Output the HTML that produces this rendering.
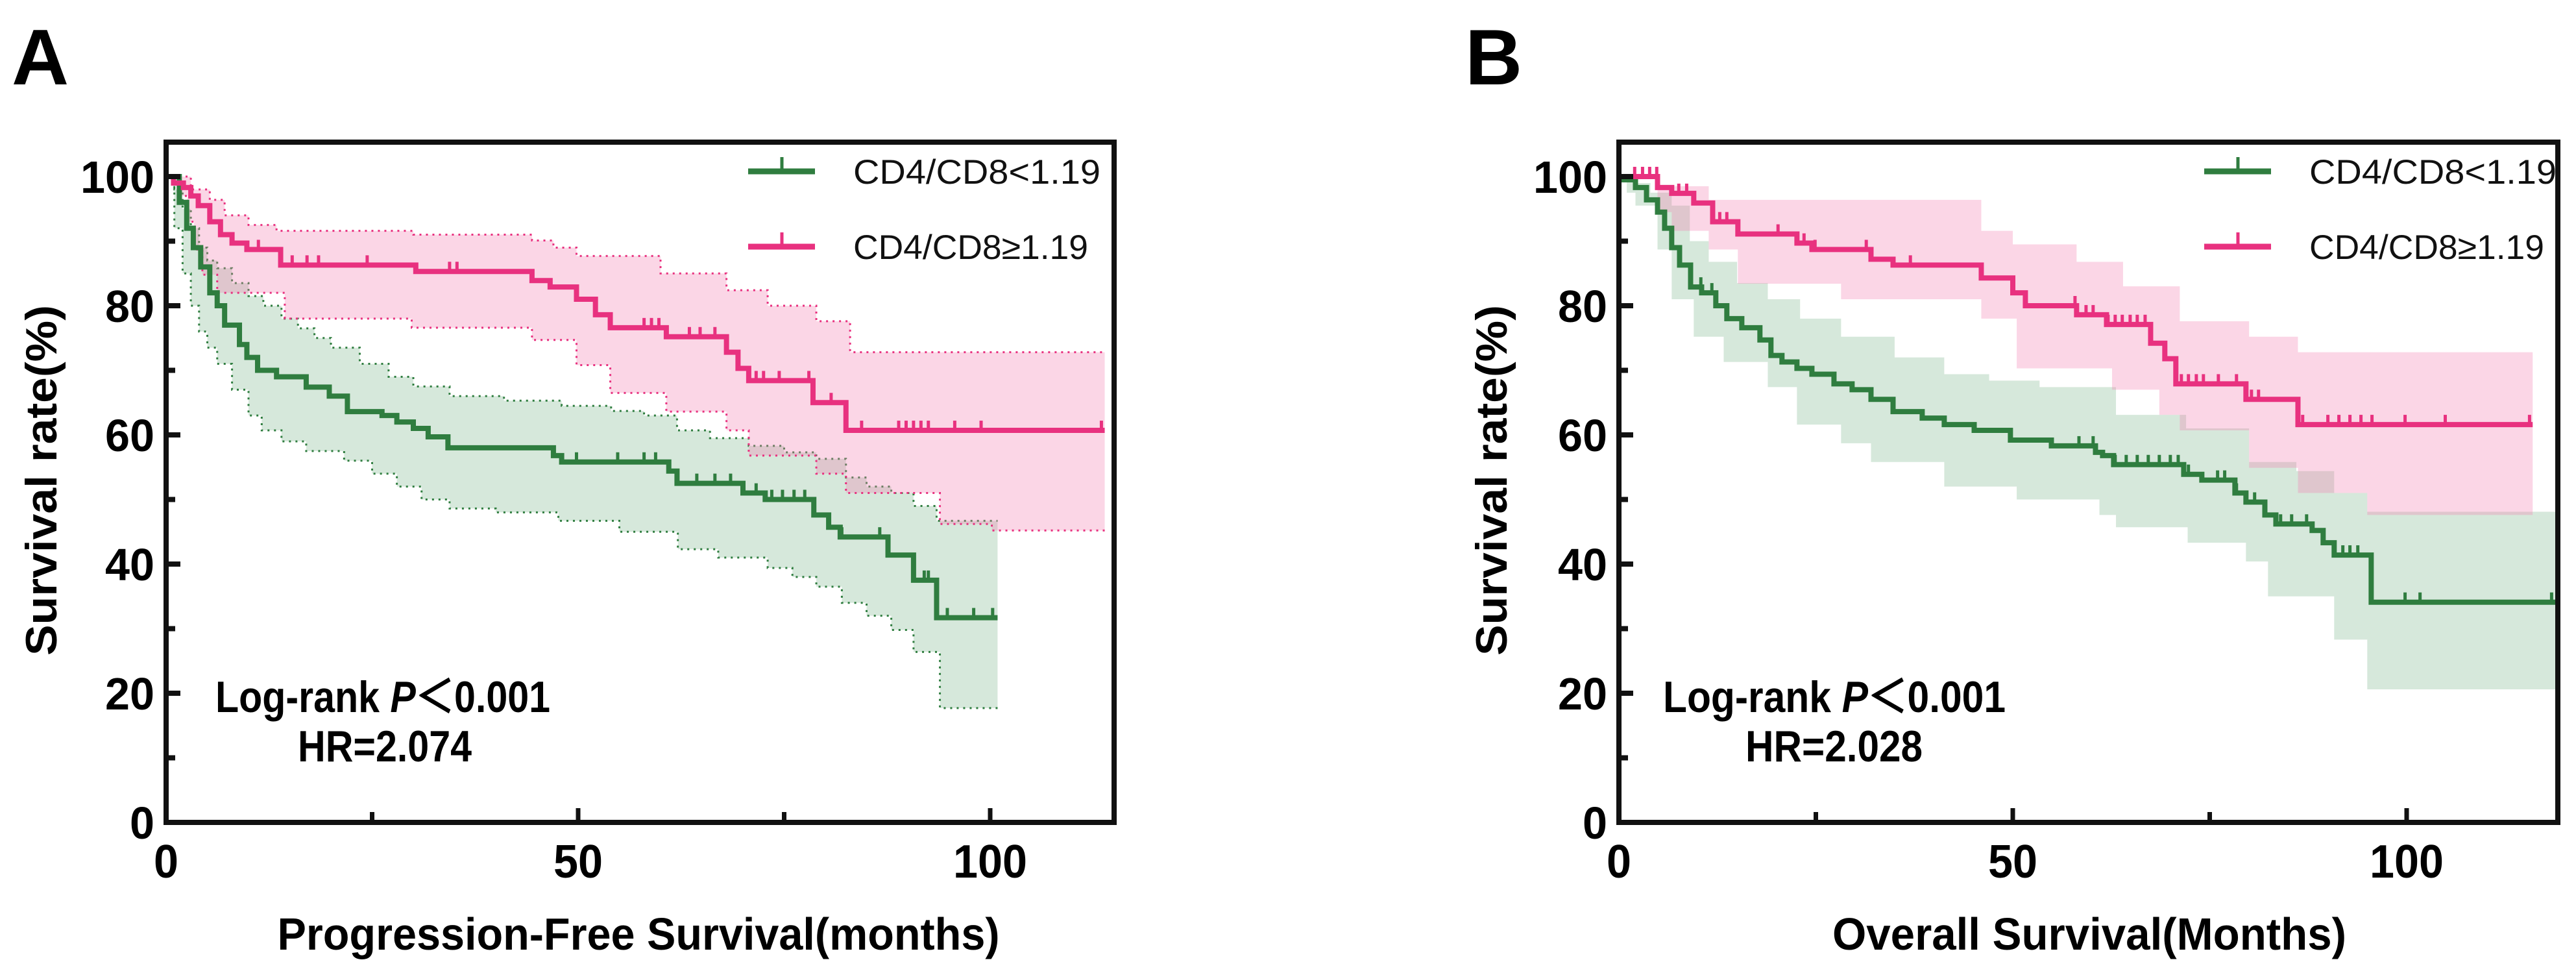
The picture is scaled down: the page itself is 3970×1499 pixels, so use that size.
<!DOCTYPE html>
<html><head><meta charset="utf-8"><style>
html,body{margin:0;padding:0;background:#fff}
svg{display:block}
text{font-family:"Liberation Sans",sans-serif}
</style></head><body>
<svg id="fig" width="3970" height="1499" viewBox="0 0 3970 1499" xmlns="http://www.w3.org/2000/svg">
<text x="18" y="130" font-size="122" font-weight="bold">A</text>
<text x="2258" y="130" font-size="122" font-weight="bold">B</text>
<g id="pa"></g>
<g id="pb"></g>
</svg>
<script>
// ---- Panel A data (PFS) ----
const aLowTimes=[0,1.6,2.5,3.3,4.2,5.3,6.2,7.1,8.9,9.8,11.1,13.4,17,19.8,22,26.2,28,30,31.8,34.2,47,48,61,62,70,72.7,78.6,80.4,81.8,87.6,90.7,93.5];
const aLowSurv=[100,96,92,89,86,82,80,77,74,72,70,69,67.4,66,63.6,63,62,61,59.7,58,56.8,55.8,54.4,52.5,51,50,47.6,45.7,44.2,41.4,37.5,31.7];
const aLowEnd=100.9;
const aLowCens=[49.8,54.8,58,59.4,64.4,66.6,68.5,71.6,73.5,74.8,76.2,77.5,82,86.6,92,92.5,94.8,98,100.3];
const aLowCiUpT=[0,1,2,3,4,5,6.2,8,10,11.8,14,16,18,20,23.5,27,30,34.4,41,48,54,58,62,66,70.7,75,78.9,82.5,85,88,90.7,93.5];
const aLowCiUpV=[100,98,95,92,89,87,85.8,83.5,81.5,80,78,76.5,75,73.5,71,69,67.5,66,65.3,64.5,63.7,63,60.7,59.5,58.3,57.3,56.3,53.4,52,51,49,46.7];
const aLowCiLoT=[0,1,2,3,4,5,6.2,8,10,11.6,14,17,21.6,25,28,31,34.4,40,47.6,55,62.1,67,73,76,78.9,82,85,88,90.7,93.9];
const aLowCiLoV=[100,92,85,80,76,73.5,71,67,63,60.7,59,57.5,56,54,52,50,48.6,48,46.7,45,42.3,41,39.4,38,36.5,34,32,29.8,26.4,17.7];

const aHighTimes=[0,0.9,2.1,3,3.9,5.3,6.6,8,9.8,13.9,30.3,44.4,46.6,49.8,52.1,53.9,60.7,68,69.4,70.7,78.5,82.5];
const aHighSurv=[100,99,98.3,97,95.5,93,91,89.7,88.7,86.3,85.3,83.9,82.9,81,78.6,76.6,75.2,72.8,70.3,68.4,65,60.7];
const aHighEnd=113.9;
const aHighCens=[8,11.2,15.3,17.1,18.5,24.4,34.4,35.3,58,58.9,59.8,63.5,64.8,66.6,71.6,72.5,74.4,78,80.7,84.4,88.9,89.8,90.7,91.6,92.5,95.7,98.9,113.5];
const aHighCiUpT=[0,3,5.3,7.1,10,13.4,30,44.4,47,49.8,60,68,73,78.9,83];
const aHighCiUpV=[100,98,96.4,94,92.5,91.6,91,90.1,89,87.7,85,82.4,80,77.6,72.8];
const aHighCiLoT=[0,1.5,2.6,3.4,4.4,6.2,14.4,29.8,44.4,49.8,53.9,60.7,68,70.7,78.9,82.5,93.9,100.2];
const aHighCiLoV=[100,97,93,88.7,84.8,82,78,76.6,74.7,70.8,66.5,63.6,60.7,56.8,54,51,46.2,45.2];

// ---- Panel B data (OS) ----
const bLowTimes=[0,0.65,2.1,3.5,4.9,5.8,6.7,7.7,9.1,10.5,12.3,13.7,15.6,17.9,19.3,20.7,22.6,24.5,27.3,29.6,32,34.8,38.5,41.3,45.1,49.7,54.9,60.5,61.4,62.8,71.7,74,78.2,79.6,82,83.4,88,89.4,90.8,95.5];
const bLowSurv=[100,99.5,98.3,96.4,94.5,92,89,86.3,82.9,82,80,78,76.6,74.7,72.3,71.3,70.3,69.4,67.9,67,65.5,63.6,62.6,61.6,60.7,59.2,58.3,57.3,56.8,55.4,53.9,53,51,49.6,47.6,46.2,45.2,43.3,41.4,34.1];
const bLowEnd=118.9;
const bLowCens=[10.4,11.8,58.4,60.2,63,64.4,65.8,67.2,68.6,70,71,72.3,76,76.9,78.4,80.7,84,85.4,87.3,91.9,92.8,93.8,99.8,101.7,118.4];
const bLowCiUpT=[0,2,4,6.7,9,11.4,15,18.9,23,28.2,35,41.3,47,53.4,63.1,72,80,86,90.8,95];
const bLowCiUpV=[100,99,97.5,95.5,90,86.8,83.5,81,78,75.2,72,69.4,68.4,67.4,63.1,61,55.8,54.4,51,48.1];
const bLowCiLoT=[0,1,2.1,4.9,6.7,9.5,13.3,18.9,22.6,28.2,32,41.3,50.5,61,63.1,72.2,79.6,82.4,90.8,95];
const bLowCiLoV=[100,97.5,95.5,88.7,81,75.2,71.3,67.4,61.6,58.7,55.8,52,50,47.6,45.7,43.3,40.4,35,28.3,20.6];

const bHighTimes=[0,4.9,6.7,9.5,11.9,15.1,22.6,24.5,32,34.8,46,50,51.6,58.1,61.9,67.5,69.3,70.7,79.6,86.2];
const bHighSurv=[100,98.3,97.4,95.9,93,91.1,89.7,88.7,87.2,86.3,84.3,82,80,78.6,77.1,74.2,71.8,67.9,65.5,61.6];
const bHighEnd=116;
const bHighCens=[2,3,3.9,4.8,7.6,8.6,9.5,12.8,13.7,20.2,23.5,24.9,31.4,37,57.9,59.3,60.2,62.1,63,63.9,64.9,65.8,66.8,71.4,72.3,73.3,74.2,76.1,78.4,80.3,81.2,86.8,90,91.4,92.8,94.2,95.6,99.8,104.9,115.6];
const bHighCiUpT=[0,5,11.4,46,50,58.1,64,71.2,80,86.2];
const bHighCiUpV=[100,98.5,96.4,91.6,89.5,86.8,83,77.6,75.2,72.8];
const bHighCiLoT=[0,4.9,6.7,11.4,15.1,28.2,46,50.5,62.6,68.6,71.2,80,86.2,95];
const bHighCiLoV=[100,94.5,91.6,88.7,83.4,81,78,70.3,67,63.1,60.7,54.9,51,47.6];

const yTicks=[0,20,40,60,80,100];
const yMinor=[10,30,50,70,90];
const xTicks=[0,50,100];
const xMinor=[25,75];
const legendLabels=["CD4/CD8<1.19","CD4/CD8\u22651.19"];

const NS="http://www.w3.org/2000/svg";
const GREEN="#2f7d3f", PINK="#e8317f";
function mk(tag,attrs,parent){const e=document.createElementNS(NS,tag);for(const k in attrs)e.setAttribute(k,attrs[k]);parent.appendChild(e);return e;}

function stepPts(T,V,end,X,Y){const p=[[X(T[0]),Y(V[0])]];for(let i=1;i<T.length;i++){p.push([X(T[i]),Y(V[i-1])]);p.push([X(T[i]),Y(V[i])]);}p.push([X(end),Y(V[V.length-1])]);return p;}
function valAt(T,V,t){let v=V[0];for(let i=0;i<T.length;i++){if(T[i]<=t)v=V[i];}return v;}

function panel(g,cfg){
  const X=t=>cfg.x0+t*cfg.pxm, Y=v=>cfg.y0-(v/100)*(cfg.y0-cfg.y100);
  cfg.series.forEach(s=>{
    const up=stepPts(s.cuT,s.cuV,s.end,X,Y), lo=stepPts(s.clT,s.clV,s.end,X,Y).reverse();
    const pts=up.concat(lo).map(p=>p.join(',')).join(' ');
    const band=mk('polygon',{points:pts,fill:s.fill,'fill-opacity':s.op},g);
    
    
    if(cfg.dotted){
      [up,lo].forEach((pp,j)=>{const l=mk('polyline',{points:pp.map(p=>p.join(',')).join(' '),fill:'none',stroke:s.color,'stroke-width':3,'stroke-dasharray':'3 7'},g);
      
      });
    }
  });
  cfg.series.forEach(s=>{
    const pp=stepPts(s.T,s.V,s.end,X,Y);
    const l=mk('polyline',{points:pp.map(p=>p.join(',')).join(' '),fill:'none',stroke:s.color,'stroke-width':8},g);
    
    
    s.C.forEach(t=>{const y=Y(valAt(s.T,s.V,t));const c=mk('line',{x1:X(t),x2:X(t),y1:y,y2:y-15,stroke:s.color,'stroke-width':5},g);
      
      });
  });
  const fr=mk('rect',{x:cfg.x0,y:cfg.top,width:cfg.right-cfg.x0,height:cfg.y0-cfg.top,fill:'none',stroke:'#111','stroke-width':8},g);
  
  
  yTicks.forEach(v=>{const y=Y(v);
    const t=mk('line',{x1:cfg.x0,x2:cfg.x0+22,y1:y,y2:y,stroke:'#111','stroke-width':8},g);
    
    
    const lb=mk('text',{x:cfg.x0-18,y:y+25,'font-size':70,'font-weight':'bold','text-anchor':'end',textLength:String(v).length*38,lengthAdjust:'spacingAndGlyphs'},g);lb.textContent=v;
    
    });
  yMinor.forEach(v=>{const y=Y(v);const t=mk('line',{x1:cfg.x0,x2:cfg.x0+14,y1:y,y2:y,stroke:'#111','stroke-width':8},g);
    
    });
  xTicks.forEach(v=>{const x=X(v);
    const t=mk('line',{x1:x,x2:x,y1:cfg.y0,y2:cfg.y0-22,stroke:'#111','stroke-width':7},g);
    
    
    const lb=mk('text',{x:x,y:cfg.y0+85,'font-size':72,'font-weight':'bold','text-anchor':'middle',textLength:String(v).length*38,lengthAdjust:'spacingAndGlyphs'},g);lb.textContent=v;
    
    });
  xMinor.forEach(v=>{const x=X(v);const t=mk('line',{x1:x,x2:x,y1:cfg.y0,y2:cfg.y0-16,stroke:'#111','stroke-width':7},g);
    
    });
  const xt=mk('text',{x:cfg.xtX,y:1463,'font-size':70,'font-weight':'bold','text-anchor':'middle',textLength:cfg.xtW,lengthAdjust:'spacingAndGlyphs'},g);xt.textContent=cfg.xTitle;
  
  
  const yt=mk('text',{x:0,y:0,'font-size':68,'font-weight':'bold','text-anchor':'middle',textLength:540,lengthAdjust:'spacingAndGlyphs',transform:`translate(${cfg.ytX},740) rotate(-90)`},g);yt.textContent='Survival rate(%)';
  
  
  cfg.series.forEach((s,i)=>{const y=264+i*116;
    const l=mk('line',{x1:cfg.legX,x2:cfg.legX+103,y1:y,y2:y,stroke:s.color,'stroke-width':9},g);
    
    
    const tk=mk('line',{x1:cfg.legX+52,x2:cfg.legX+52,y1:y,y2:y-22,stroke:s.color,'stroke-width':5},g);
    
    
    const tx=mk('text',{x:cfg.legX+162,y:y+19,'font-size':53,textLength:i?362:381,lengthAdjust:'spacingAndGlyphs',fill:'#111'},g);tx.textContent=legendLabels[i];
    
    });
  const a1=mk('text',{x:cfg.annX,y:1097,'font-size':68,'font-weight':'bold',textLength:cfg.annW,lengthAdjust:'spacingAndGlyphs'},g);
  a1.innerHTML='Log-rank <tspan font-style="italic">P</tspan>\uFF1C0.001';
  
  
  const a2=mk('text',{x:cfg.hrX,y:1173,'font-size':68,'font-weight':'bold',textLength:cfg.hrW,lengthAdjust:'spacingAndGlyphs'},g);a2.textContent=cfg.hr;
  
  
}

panel(document.getElementById('pa'),{x0:256,pxm:12.7,y0:1267,y100:272,top:219,right:1717,dotted:true,
  xTitle:'Progression-Free Survival(months)',xtX:984,xtW:1113,ytX:87,legX:1153,
  annX:332,annW:516,hrX:459,hrW:268,hr:'HR=2.074',
  series:[
   {name:'low-ratio',T:aLowTimes,V:aLowSurv,end:aLowEnd,C:aLowCens,cuT:aLowCiUpT,cuV:aLowCiUpV,clT:aLowCiLoT,clV:aLowCiLoV,color:GREEN,fill:'#7fb98e',op:0.32},
   {name:'high-ratio',T:aHighTimes,V:aHighSurv,end:aHighEnd,C:aHighCens,cuT:aHighCiUpT,cuV:aHighCiUpV,clT:aHighCiLoT,clV:aHighCiLoV,color:PINK,fill:'#f27fb0',op:0.32}]});
panel(document.getElementById('pb'),{x0:2495,pxm:12.14,y0:1267,y100:272,top:219,right:3942,dotted:false,
  xTitle:'Overall Survival(Months)',xtX:3220,xtW:792,ytX:2322,legX:3397,
  annX:2563,annW:528,hrX:2690,hrW:273,hr:'HR=2.028',
  series:[
   {name:'low-ratio',T:bLowTimes,V:bLowSurv,end:bLowEnd,C:bLowCens,cuT:bLowCiUpT,cuV:bLowCiUpV,clT:bLowCiLoT,clV:bLowCiLoV,color:GREEN,fill:'#7fb98e',op:0.32},
   {name:'high-ratio',T:bHighTimes,V:bHighSurv,end:bHighEnd,C:bHighCens,cuT:bHighCiUpT,cuV:bHighCiUpV,clT:bHighCiLoT,clV:bHighCiLoV,color:PINK,fill:'#f27fb0',op:0.32}]});
</script>
</body></html>
